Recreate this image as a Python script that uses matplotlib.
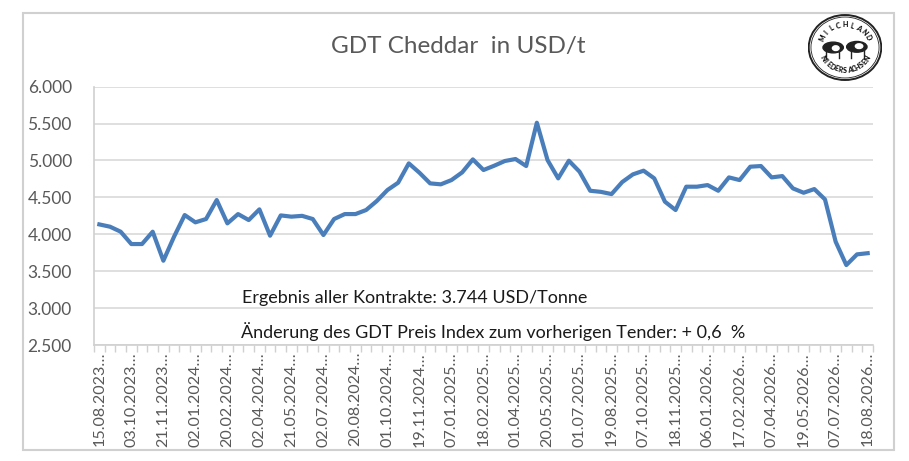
import numpy as np
import matplotlib
matplotlib.use("Agg")
import matplotlib.pyplot as plt
from matplotlib.patches import Ellipse, Rectangle

title = "GDT Cheddar  in USD/t"
tick_labels = ["15.08.2023", "03.10.2023", "21.11.2023", "02.01.2024", "20.02.2024",
               "02.04.2024", "21.05.2024", "02.07.2024", "20.08.2024", "01.10.2024",
               "19.11.2024", "07.01.2025", "18.02.2025", "01.04.2025", "20.05.2025",
               "01.07.2025", "19.08.2025", "07.10.2025", "18.11.2025", "06.01.2026",
               "17.02.2026", "07.04.2026", "19.05.2026", "07.07.2026", "18.08.2026"]
values = [4134, 4103, 4035, 3868, 3868, 4035, 3642, 3967, 4261, 4162,
          4207, 4464, 4148, 4274, 4193, 4338, 3981, 4256, 4239, 4250,
          4207, 3990, 4207, 4274, 4274, 4329, 4451, 4600, 4699, 4961,
          4834, 4690, 4677, 4735, 4839, 5015, 4871, 4929, 4993, 5020,
          4925, 5512, 5006, 4758, 4997, 4848, 4590, 4575, 4545, 4708,
          4812, 4862, 4758, 4442, 4329, 4645, 4645, 4667, 4590, 4771,
          4735, 4916, 4925, 4771, 4789, 4622, 4563, 4613, 4473, 3900,
          3583, 3728, 3744]
label_step = 3
y_ticks = [2500, 3000, 3500, 4000, 4500, 5000, 5500, 6000]
note1 = "Ergebnis aller Kontrakte: 3.744 USD/Tonne"
note2 = "Änderung des GDT Preis Index zum vorherigen Tender: + 0,6  %"

plt.rcParams['font.family'] = ['Lato', 'DejaVu Sans']
W, H = 909, 461
fig = plt.figure(figsize=(W / 100, H / 100), dpi=100)

def fx(px):
    return px / W

def fy(py):
    return 1 - py / H

# outer border
fig.patches.append(Rectangle((fx(23), fy(450)), fx(894) - fx(23), fy(13) - fy(450),
                             transform=fig.transFigure, fill=False,
                             edgecolor="#d0d0d0", linewidth=1.5))

left, right, top, bottom = 94, 873, 86.7, 345
ax = fig.add_axes([fx(left), fy(bottom), fx(right) - fx(left), fy(top) - fy(bottom)])
x = np.arange(len(values))
ax.plot(x, values, color="#4a7ebb", linewidth=3.0, solid_joinstyle="round", zorder=3)
ax.set_xlim(-0.5, len(values) - 0.5)
ax.set_ylim(y_ticks[0], y_ticks[-1])
ax.set_yticks(y_ticks)
ax.set_yticklabels([f"{v:,}".replace(",", ".") for v in y_ticks])
ax.grid(axis="y", color="#d9d9d9", linewidth=1.2)
ax.set_axisbelow(True)
for s in ["top", "right"]:
    ax.spines[s].set_visible(False)
ax.spines["left"].set_color("#d0d0d0")
ax.spines["left"].set_linewidth(1.2)
ax.spines["bottom"].set_color("#d0d0d0")
ax.spines["bottom"].set_linewidth(1.2)
ax.tick_params(axis="y", length=0, pad=16, labelsize=12.5, labelcolor="#595959")

major_pos = x[::label_step]
ax.set_xticks(major_pos)
ax.set_xticklabels([t + "…" for t in tick_labels], rotation=90, fontsize=11.6,
                   color="#595959")
ax.tick_params(axis="x", length=0, pad=5)
ax.set_xticks(np.arange(-0.5, len(values), 1.0), minor=True)
ax.tick_params(axis="x", which="minor", length=5, color="#d0d0d0", width=1)

fig.text(fx(458), fy(47), title, ha="center", va="center", fontsize=17.5,
         color="#595959")
fig.text(fx(242), fy(298), note1, ha="left", va="center", fontsize=13, color="#1a1a1a")
fig.text(fx(241), fy(332), note2, ha="left", va="center", fontsize=13, color="#1a1a1a")

# logo
lax = fig.add_axes([fx(808), fy(81), fx(882) - fx(808), fy(14) - fy(81)])
lax.set_xlim(-1, 1)
lax.set_ylim(-1, 1)
lax.axis("off")
lax.add_patch(Ellipse((0, 0), 1.96, 1.94, fill=False, edgecolor="#222222", linewidth=1.4))
lax.add_patch(Ellipse((0, 0), 1.84, 1.82, fill=False, edgecolor="#222222", linewidth=0.6))
def arc_text(txt, t0, t1, r, top_side=True):
    n = len(txt)
    for i, ch in enumerate(txt):
        t = np.radians(t0 + (t1 - t0) * i / (n - 1))
        rot = np.degrees(t) - 90 if top_side else np.degrees(t) + 90
        lax.text(r * np.cos(t), r * np.sin(t), ch, ha="center", va="center",
                 rotation=rot, fontsize=5, fontweight="black", color="#111111")
arc_text("MILCHLAND", 155, 25, 0.68, True)
arc_text("NIEDERSACHSEN", 208, 332, 0.68, False)
# cows (simple silhouettes)
lax.add_patch(Ellipse((-0.32, 0.0), 0.55, 0.32, color="#222222"))
lax.add_patch(Ellipse((0.32, 0.02), 0.55, 0.32, color="#222222"))
lax.add_patch(Ellipse((-0.25, -0.02), 0.18, 0.14, color="white"))
lax.add_patch(Ellipse((0.38, 0.04), 0.2, 0.14, color="white"))
for xx in (-0.52, -0.15, 0.15, 0.52):
    lax.plot([xx, xx], [-0.1, -0.32], color="#222222", lw=1.0)

fig.savefig("out.png", dpi=100)
